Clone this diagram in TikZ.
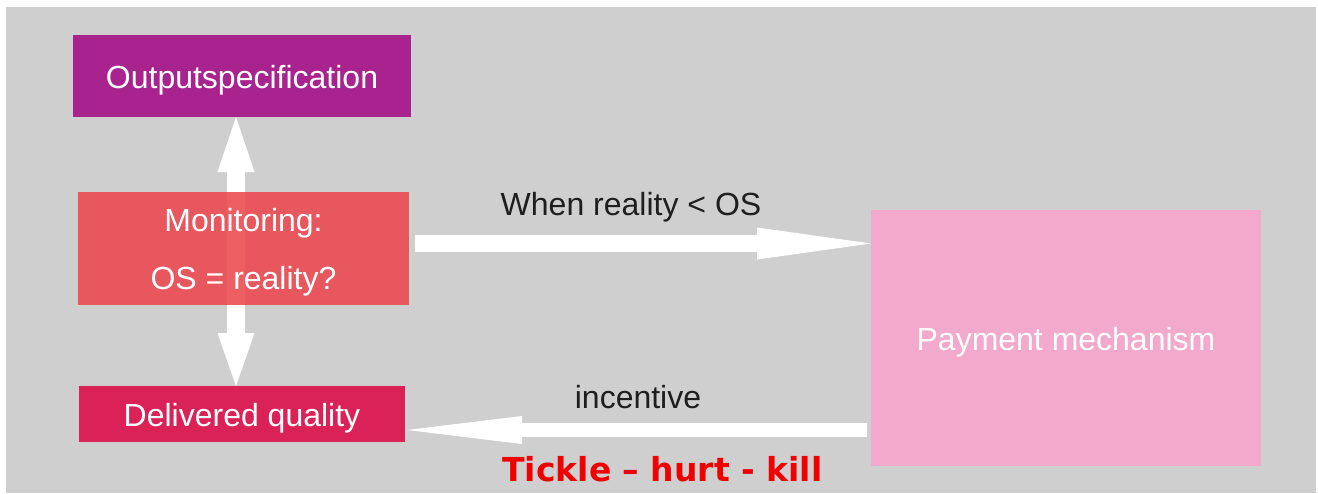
\documentclass[tikz,border=0pt]{standalone}
\usepackage{fontspec}
\setmainfont{Liberation Sans}
\newfontfamily\tickfont{DejaVu Sans}
\usetikzlibrary{arrows.meta, positioning, backgrounds}

\definecolor{panelgray}{RGB}{207,207,207}
\definecolor{ospurple}{RGB}{169,35,143}
\definecolor{monred}{RGB}{236,67,74}
\definecolor{delcrimson}{RGB}{219,34,86}
\definecolor{paypink}{RGB}{242,169,203}
\definecolor{labelgray}{RGB}{30,30,30}
\definecolor{tickred}{RGB}{240,0,0}

\begin{document}
\begin{tikzpicture} [x = 1pt, y = -1pt, on grid, every node/.style = {inner sep = 0pt, outer sep = 0pt, font = \fontsize{32}{58}\selectfont},
box/.style = {text = white}, oneline/.style = {text height = 25.6pt, text depth = 0pt},
flow/.style = {white, line width = #1}, lbl/.style = {text = labelgray}]

\useasboundingbox (0,0) rectangle (1318,493);

\node (out) [box, oneline, fill = ospurple, minimum width = 338pt, minimum height = 82pt] at (242,76) {Outputspecification};
\node (mon) [box, fill = monred, fill opacity = 0.85, text opacity = 1, text depth = 0pt, align = center,
  minimum width = 331pt, minimum height = 113pt, below = 172.5pt of out, xshift = 1.5pt] {Monitoring:\\OS = reality?};
\node (del) [box, oneline, fill = delcrimson, minimum width = 326pt, minimum height = 56pt, below = 165.5pt of mon, xshift = -1.5pt] {Delivered quality};
\node (pay) [box, oneline, fill = paypink, minimum width = 390pt, minimum height = 256pt, below right = 89.5pt and 822.5pt of mon] {Payment mechanism};

\coordinate (when) at ([yshift = 5pt] mon.east);
\coordinate (inc) at ([yshift = -16pt] del.east);
\coordinate (spine) at ([xshift = -6pt] out.south);

\draw [flow = 17pt, -{Triangle[length = 114pt, width = 32pt, line width = 0pt]}, shorten <= 6pt]
  (when) -- node [lbl, above = 21pt, xshift = -9pt] {When reality < OS} (when -| pay.west);
\draw [flow = 14pt, -{Triangle[length = 115pt, width = 28pt, line width = 0pt]}, shorten <= 4pt, shorten >= 2pt]
  (inc -| pay.west) -- node [lbl, above = 21pt] {incentive}
  node [below = 26pt, xshift = 24.5pt, text = tickred, font = \tickfont\bfseries\fontsize{33}{38}\selectfont] {Tickle – hurt - kill} (inc);

\begin{scope}[on background layer]
\fill [panelgray] (6,7) rectangle (1316,493);
\draw [flow = 18pt, {Triangle[length = 55pt, width = 37pt, line width = 0pt]}-{Triangle[length = 53pt, width = 37pt, line width = 0pt]}]
  (spine) -- (spine |- del.north);
\end{scope}
\end{tikzpicture}
\end{document}
